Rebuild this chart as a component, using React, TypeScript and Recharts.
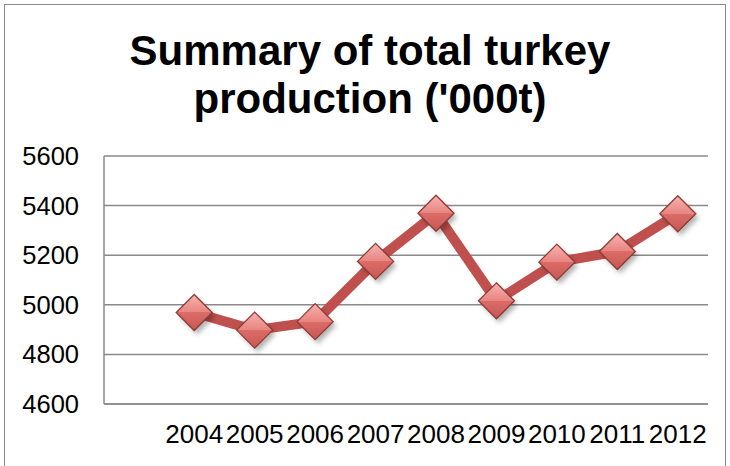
import React from "react";
import { LineChart, Line, XAxis, YAxis, CartesianGrid } from "recharts";

const years = ["2004", "2005", "2006", "2007", "2008", "2009", "2010", "2011", "2012"];
const production = [4969, 4898, 4932, 5175, 5369, 5016, 5172, 5215, 5367];
const yTicks = [4600, 4800, 5000, 5200, 5400, 5600];

const data = years.map((year, i) => ({ year, value: production[i] }));

const FONT = '"Liberation Sans", Arial, sans-serif';
const GRID = "#8a8a8a";

function Diamond(props: any) {
  const { cx, cy, index } = props;
  if (cx == null || cy == null) return null;
  const r = 18;
  const pts = `${cx},${cy - r} ${cx + r},${cy} ${cx},${cy + r} ${cx - r},${cy}`;
  const sh = `${cx + 3},${cy - r + 4} ${cx + r + 3},${cy + 4} ${cx + 3},${cy + r + 4} ${cx - r + 3},${cy + 4}`;
  const gid = `dg-${index}`;
  const fid = `ds-${index}`;
  return (
    <g key={gid}>
      <defs>
        <linearGradient id={gid} x1="0" y1="0" x2="0" y2="1">
          <stop offset="0" stopColor="#f7b3b0" />
          <stop offset="0.5" stopColor="#e8847f" />
          <stop offset="0.5" stopColor="#dc6c68" />
          <stop offset="1" stopColor="#c65753" />
        </linearGradient>
        <filter id={fid} x="-50%" y="-50%" width="200%" height="200%">
          <feGaussianBlur stdDeviation="2.5" />
        </filter>
      </defs>
      <polygon points={sh} fill="rgba(0,0,0,0.3)" filter={`url(#${fid})`} />
      <polygon points={pts} fill={`url(#${gid})`} stroke="#8e3a37" strokeWidth={1.3} />
    </g>
  );
}

export default function App() {
  return (
    <div
      style={{
        position: "absolute",
        left: 0,
        top: 0,
        width: 730,
        height: 466,
        overflow: "hidden",
        background: "#fff",
        fontFamily: FONT,
      }}
    >
      <div
        style={{
          position: "absolute",
          left: 4,
          top: 4,
          width: 722,
          height: 480,
          border: `1.5px solid ${GRID}`,
          boxSizing: "border-box",
        }}
      />
      <div style={{ position: "absolute", left: 0, top: 0 }}>
        <LineChart width={730} height={466} data={data} margin={{ top: 156, right: 22, bottom: 0, left: 0 }}>
          <CartesianGrid vertical={false} stroke={GRID} strokeWidth={1.5} />
          <XAxis
            dataKey="year"
            scale="band"
            interval={0}
            height={62}
            padding={{ left: 60, right: 0 }}
            axisLine={{ stroke: GRID, strokeWidth: 1.5 }}
            tickLine={false}
            tickSize={0}
            tickMargin={21}
            tick={{ fontSize: 26, fill: "#000", fontFamily: FONT }}
          />
          <YAxis
            domain={[4600, 5600]}
            ticks={yTicks}
            width={104}
            axisLine={{ stroke: GRID, strokeWidth: 1.5 }}
            tickLine={false}
            tickSize={0}
            tickMargin={25}
            tick={{ fontSize: 25.5, fill: "#000", fontFamily: FONT }}
          />
          <Line
            type="linear"
            dataKey="value"
            stroke="#c0504d"
            strokeWidth={10}
            strokeLinejoin="round"
            dot={(p: any) => <Diamond {...p} key={`d-${p.index}`} />}
            activeDot={false}
            isAnimationActive={false}
          />
        </LineChart>
      </div>
      <svg width={730} height={466} style={{ position: "absolute", left: 0, top: 0, pointerEvents: "none" }}>
        <text x={370} y={65} textAnchor="middle" fontFamily={FONT} fontWeight="bold" fontSize={42} fill="#000">
          Summary of total turkey
        </text>
        <text x={370} y={113} textAnchor="middle" fontFamily={FONT} fontWeight="bold" fontSize={42} fill="#000">
          production ('000t)
        </text>
      </svg>
    </div>
  );
}
